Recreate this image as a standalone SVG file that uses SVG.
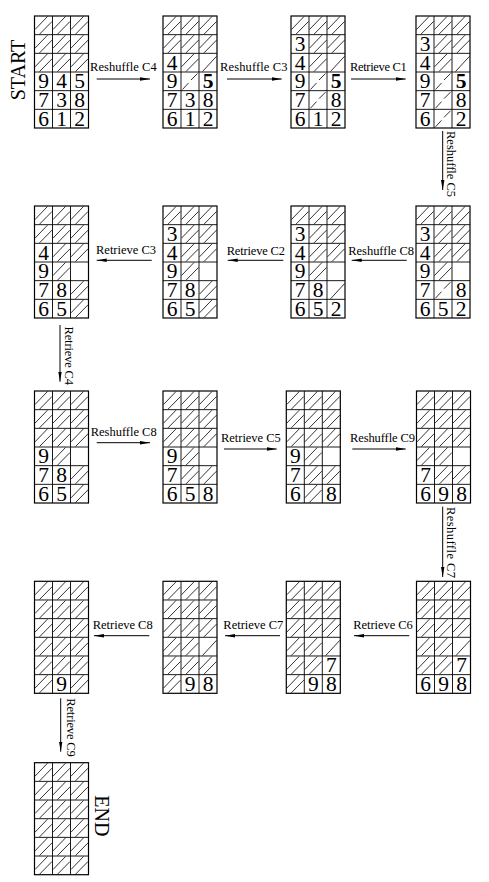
<svg xmlns="http://www.w3.org/2000/svg" width="489" height="882" viewBox="0 0 489 882">
<style>
.h{stroke:#000;stroke-width:0.8;fill:none}
.fr{fill:none;stroke:#000;stroke-width:1.2}
.gl{stroke:#000;stroke-width:0.9}
.d{font-family:"Liberation Serif","Times New Roman",serif;font-size:21.5px;text-anchor:middle;fill:#000}
.b{font-weight:bold}
.lb{font-family:"Liberation Serif","Times New Roman",serif;font-size:12.5px;fill:#000}
.big{font-family:"Liberation Serif","Times New Roman",serif;font-size:20px;fill:#000;text-anchor:middle}
.cn{stroke:#000;stroke-width:1;fill:none;marker-end:url(#ah)}
</style>
<defs>
<marker id="ah" markerUnits="userSpaceOnUse" markerWidth="10" markerHeight="5" refX="10" refY="2.5" orient="auto" viewBox="0 0 10 5"><path d="M0,0.8 L10,2.5 L0,4.2 z" fill="#000"/></marker>
<path id="hF" class="h" d="M0.5,13.5 L13,0.5 M5,18.2 L17.5,5.5"/>
<path id="hD" class="h" d="M3.5,18.2 L17.5,3"/>
<path id="hL" class="h" d="M1.5,17.5 L7.5,11 M10,8 L16.5,1.5"/>
<g id="rF"><use href="#hF"/><use href="#hF" x="18"/><use href="#hF" x="36"/></g>
<g id="top3"><use href="#rF"/><use href="#rF" y="18.67"/><use href="#rF" y="37.33"/></g>
<g id="frame">
<rect class="fr" x="0" y="0" width="54" height="112"/>
<path class="gl" d="M18,0V112M36,0V112M0,18.67H54M0,37.33H54M0,56H54M0,74.67H54M0,93.33H54"/>
</g>
</defs>

<g id="g1" transform="translate(34.5,16)">
<use href="#top3"/>
<text class="d" x="9" y="72.4">9</text><text class="d" x="27" y="72.4">4</text><text class="d" x="45" y="72.4">5</text>
<text class="d" x="9" y="91">7</text><text class="d" x="27" y="91">3</text><text class="d" x="45" y="91">8</text>
<text class="d" x="9" y="109.7">6</text><text class="d" x="27" y="109.7">1</text><text class="d" x="45" y="109.7">2</text>
<use href="#frame"/>
</g>

<g id="g2" transform="translate(163,16)">
<use href="#rF"/><use href="#rF" y="18.67"/>
<use href="#hF" x="18" y="37.33"/><use href="#hD" x="36" y="37.33"/>
<use href="#hL" x="18" y="56"/>
<text class="d" x="9" y="53.7">4</text>
<text class="d" x="9" y="72.4">9</text><text class="d b" x="45" y="72.4">5</text>
<text class="d" x="9" y="91">7</text><text class="d" x="27" y="91">3</text><text class="d" x="45" y="91">8</text>
<text class="d" x="9" y="109.7">6</text><text class="d" x="27" y="109.7">1</text><text class="d" x="45" y="109.7">2</text>
<use href="#frame"/>
</g>

<g id="g3" transform="translate(291,16)">
<use href="#rF"/>
<use href="#hF" x="18" y="18.67"/><use href="#hF" x="36" y="18.67"/>
<use href="#hF" x="18" y="37.33"/><use href="#hD" x="36" y="37.33"/>
<use href="#hL" x="18" y="56"/><use href="#hL" x="18" y="74.67"/>
<text class="d" x="9" y="35">3</text>
<text class="d" x="9" y="53.7">4</text>
<text class="d" x="9" y="72.4">9</text><text class="d b" x="45" y="72.4">5</text>
<text class="d" x="9" y="91">7</text><text class="d" x="45" y="91">8</text>
<text class="d" x="9" y="109.7">6</text><text class="d" x="27" y="109.7">1</text><text class="d" x="45" y="109.7">2</text>
<use href="#frame"/>
</g>

<g id="g4" transform="translate(416,16)">
<use href="#rF"/>
<use href="#hF" x="18" y="18.67"/><use href="#hF" x="36" y="18.67"/>
<use href="#hF" x="18" y="37.33"/><use href="#hD" x="36" y="37.33"/>
<use href="#hL" x="18" y="56"/><use href="#hL" x="18" y="74.67"/><use href="#hL" x="18" y="93.33"/>
<text class="d" x="9" y="35">3</text>
<text class="d" x="9" y="53.7">4</text>
<text class="d" x="9" y="72.4">9</text><text class="d b" x="45" y="72.4">5</text>
<text class="d" x="9" y="91">7</text><text class="d" x="45" y="91">8</text>
<text class="d" x="9" y="109.7">6</text><text class="d" x="45" y="109.7">2</text>
<use href="#frame"/>
</g>

<g id="g5" transform="translate(416,206)">
<use href="#rF"/>
<use href="#hF" x="18" y="18.67"/><use href="#hF" x="36" y="18.67"/>
<use href="#hF" x="18" y="37.33"/><use href="#hF" x="36" y="37.33"/>
<use href="#hF" x="18" y="56"/>
<use href="#hL" x="18" y="74.67"/>
<text class="d" x="9" y="35">3</text>
<text class="d" x="9" y="53.7">4</text>
<text class="d" x="9" y="72.4">9</text>
<text class="d" x="9" y="91">7</text><text class="d" x="45" y="91">8</text>
<text class="d" x="9" y="109.7">6</text><text class="d" x="27" y="109.7">5</text><text class="d" x="45" y="109.7">2</text>
<use href="#frame"/>
</g>

<g id="g6" transform="translate(291,206)">
<use href="#rF"/>
<use href="#hF" x="18" y="18.67"/><use href="#hF" x="36" y="18.67"/>
<use href="#hF" x="18" y="37.33"/><use href="#hF" x="36" y="37.33"/>
<use href="#hF" x="18" y="56"/>
<use href="#hD" x="36" y="74.67"/>
<text class="d" x="9" y="35">3</text>
<text class="d" x="9" y="53.7">4</text>
<text class="d" x="9" y="72.4">9</text>
<text class="d" x="9" y="91">7</text><text class="d" x="27" y="91">8</text>
<text class="d" x="9" y="109.7">6</text><text class="d" x="27" y="109.7">5</text><text class="d" x="45" y="109.7">2</text>
<use href="#frame"/>
</g>

<g id="g7" transform="translate(163,206)">
<use href="#rF"/>
<use href="#hF" x="18" y="18.67"/><use href="#hF" x="36" y="18.67"/>
<use href="#hF" x="18" y="37.33"/><use href="#hF" x="36" y="37.33"/>
<use href="#hF" x="18" y="56"/>
<use href="#hF" x="36" y="74.67"/><use href="#hF" x="36" y="93.33"/>
<text class="d" x="9" y="35">3</text>
<text class="d" x="9" y="53.7">4</text>
<text class="d" x="9" y="72.4">9</text>
<text class="d" x="9" y="91">7</text><text class="d" x="27" y="91">8</text>
<text class="d" x="9" y="109.7">6</text><text class="d" x="27" y="109.7">5</text>
<use href="#frame"/>
</g>

<g id="g8" transform="translate(34.5,206)">
<use href="#rF"/><use href="#rF" y="18.67"/>
<use href="#hF" x="18" y="37.33"/><use href="#hF" x="36" y="37.33"/>
<use href="#hF" x="18" y="56"/>
<use href="#hF" x="36" y="74.67"/><use href="#hF" x="36" y="93.33"/>
<text class="d" x="9" y="53.7">4</text>
<text class="d" x="9" y="72.4">9</text>
<text class="d" x="9" y="91">7</text><text class="d" x="27" y="91">8</text>
<text class="d" x="9" y="109.7">6</text><text class="d" x="27" y="109.7">5</text>
<use href="#frame"/>
</g>

<g id="g9" transform="translate(34.5,391)">
<use href="#top3"/>
<use href="#hF" x="18" y="56"/>
<use href="#hF" x="36" y="74.67"/><use href="#hF" x="36" y="93.33"/>
<text class="d" x="9" y="72.4">9</text>
<text class="d" x="9" y="91">7</text><text class="d" x="27" y="91">8</text>
<text class="d" x="9" y="109.7">6</text><text class="d" x="27" y="109.7">5</text>
<use href="#frame"/>
</g>

<g id="g10" transform="translate(163,391)">
<use href="#top3"/>
<use href="#hF" x="18" y="56"/>
<use href="#hF" x="18" y="74.67"/><use href="#hF" x="36" y="74.67"/>
<text class="d" x="9" y="72.4">9</text>
<text class="d" x="9" y="91">7</text>
<text class="d" x="9" y="109.7">6</text><text class="d" x="27" y="109.7">5</text><text class="d" x="45" y="109.7">8</text>
<use href="#frame"/>
</g>

<g id="g11" transform="translate(286.3,391)">
<use href="#top3"/>
<use href="#hF" x="18" y="56"/>
<use href="#hF" x="18" y="74.67"/><use href="#hF" x="36" y="74.67"/>
<use href="#hF" x="18" y="93.33"/>
<text class="d" x="9" y="72.4">9</text>
<text class="d" x="9" y="91">7</text>
<text class="d" x="9" y="109.7">6</text><text class="d" x="45" y="109.7">8</text>
<use href="#frame"/>
</g>

<g id="g12" transform="translate(416.5,391)">
<use href="#top3"/>
<use href="#hF" y="56"/><use href="#hF" x="18" y="56"/>
<use href="#hF" x="18" y="74.67"/><use href="#hF" x="36" y="74.67"/>
<text class="d" x="9" y="91">7</text>
<text class="d" x="9" y="109.7">6</text><text class="d" x="27" y="109.7">9</text><text class="d" x="45" y="109.7">8</text>
<use href="#frame"/>
</g>

<g id="g13" transform="translate(416.5,581.3)">
<use href="#top3"/>
<use href="#hF" y="56"/><use href="#hF" x="18" y="56"/><use href="#hD" x="36" y="56"/>
<use href="#hF" y="74.67"/><use href="#hF" x="18" y="74.67"/>
<text class="d" x="45" y="91">7</text>
<text class="d" x="9" y="109.7">6</text><text class="d" x="27" y="109.7">9</text><text class="d" x="45" y="109.7">8</text>
<use href="#frame"/>
</g>

<g id="g14" transform="translate(286.3,581.3)">
<use href="#top3"/>
<use href="#hF" y="56"/><use href="#hF" x="18" y="56"/><use href="#hD" x="36" y="56"/>
<use href="#hF" y="74.67"/><use href="#hF" x="18" y="74.67"/>
<use href="#hF" y="93.33"/>
<text class="d" x="45" y="91">7</text>
<text class="d" x="27" y="109.7">9</text><text class="d" x="45" y="109.7">8</text>
<use href="#frame"/>
</g>

<g id="g15" transform="translate(163,581.3)">
<use href="#top3"/>
<use href="#hF" y="56"/><use href="#hF" x="18" y="56"/><use href="#hD" x="36" y="56"/>
<use href="#rF" y="74.67"/>
<use href="#hF" y="93.33"/>
<text class="d" x="27" y="109.7">9</text><text class="d" x="45" y="109.7">8</text>
<use href="#frame"/>
</g>

<g id="g16" transform="translate(34.5,581.3)">
<use href="#top3"/>
<use href="#rF" y="56"/><use href="#rF" y="74.67"/>
<use href="#hF" y="93.33"/><use href="#hF" x="36" y="93.33"/>
<text class="d" x="27" y="109.7">9</text>
<use href="#frame"/>
</g>

<g id="g17" transform="translate(34.5,762.7)">
<use href="#top3"/>
<use href="#rF" y="56"/><use href="#rF" y="74.67"/><use href="#rF" y="93.33"/>
<use href="#frame"/>
</g>

<g id="connectors">
<line class="cn" x1="96.7" y1="79" x2="150" y2="79"/>
<line class="cn" x1="227" y1="79" x2="281.7" y2="79"/>
<line class="cn" x1="351" y1="79" x2="405.7" y2="79"/>
<line class="cn" x1="442.7" y1="131" x2="442.7" y2="190"/>
<line class="cn" x1="406.7" y1="260.3" x2="351.7" y2="260.3"/>
<line class="cn" x1="283.3" y1="260.3" x2="227.7" y2="260.3"/>
<line class="cn" x1="151.7" y1="260.3" x2="96.7" y2="260.3"/>
<line class="cn" x1="60" y1="325" x2="60" y2="381.7"/>
<line class="cn" x1="96.7" y1="442.7" x2="150" y2="442.7"/>
<line class="cn" x1="224" y1="449" x2="276.7" y2="449"/>
<line class="cn" x1="352.3" y1="449" x2="405.7" y2="449"/>
<line class="cn" x1="442.7" y1="506.7" x2="442.7" y2="577"/>
<line class="cn" x1="409.3" y1="635.7" x2="354" y2="635.7"/>
<line class="cn" x1="280" y1="635.7" x2="225" y2="635.7"/>
<line class="cn" x1="149.3" y1="635.7" x2="94" y2="635.7"/>
<line class="cn" x1="60.7" y1="698.3" x2="60.7" y2="751.7"/>
</g>

<g id="labels">
<text class="lb" x="90" y="70.7" textLength="66.7">Reshuffle C4</text>
<text class="lb" x="220" y="70.7" textLength="67.5">Reshuffle C3</text>
<text class="lb" x="350" y="70.7" textLength="56.7">Retrieve C1</text>
<text class="lb" transform="translate(446.5,131) rotate(90)" textLength="66">Reshuffle C5</text>
<text class="lb" x="348.3" y="255" textLength="65.7">Reshuffle C8</text>
<text class="lb" x="226.7" y="254.5" textLength="58.3">Retrieve C2</text>
<text class="lb" x="96" y="254.3" textLength="60">Retrieve C3</text>
<text class="lb" transform="translate(65,326.5) rotate(90)" textLength="58.5">Retrieve C4</text>
<text class="lb" x="90.7" y="435.7" textLength="66">Reshuffle C8</text>
<text class="lb" x="221" y="442.3" textLength="59.7">Retrieve C5</text>
<text class="lb" x="350" y="442.3" textLength="65">Reshuffle C9</text>
<text class="lb" transform="translate(446.5,507) rotate(90)" textLength="71">Reshuffle C7</text>
<text class="lb" x="353.3" y="629.3" textLength="59.4">Retrieve C6</text>
<text class="lb" x="223.3" y="629.3" textLength="60">Retrieve C7</text>
<text class="lb" x="92.7" y="629.3" textLength="60">Retrieve C8</text>
<text class="lb" transform="translate(66.5,698.3) rotate(90)" textLength="58.4">Retrieve C9</text>
<text class="big" transform="translate(25,70) rotate(-90)">START</text>
<text class="big" transform="translate(95,815.8) rotate(90)">END</text>
</g>
</svg>
